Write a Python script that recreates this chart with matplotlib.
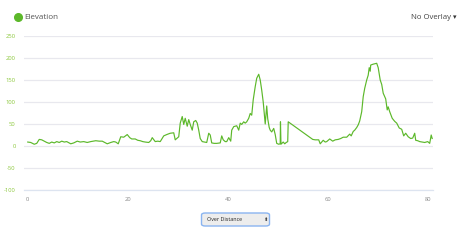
import matplotlib
matplotlib.use("Agg")
import matplotlib.pyplot as plt
from matplotlib.lines import Line2D
from matplotlib.patches import FancyBboxPatch

distance_km = [0.0, 0.6, 1.3, 1.8, 2.3, 2.8, 3.3, 3.8, 4.3, 4.8, 5.3, 5.8, 6.3, 6.8, 7.3, 7.8,
               8.3, 8.6, 9.2, 9.9, 10.5, 11.2, 11.9, 12.6, 13.1, 13.6, 14.3, 14.9, 15.4, 15.9,
               16.6, 17.2, 17.6, 18.1, 18.6, 19.2, 19.9, 20.4, 20.8, 21.5, 22.0, 22.5, 23.0,
               23.5, 24.2, 24.6, 24.9, 25.5, 26.0, 26.5, 27.2, 27.8, 28.5, 29.2, 29.5, 30.2,
               30.5, 30.9, 31.2, 31.5, 31.9, 32.2, 32.5, 32.9, 33.2, 33.6, 33.9, 34.2, 34.5,
               34.9, 35.3, 35.8, 36.2, 36.5, 36.8, 37.3, 37.8, 38.5, 38.8, 39.1, 39.5, 39.8,
               40.2, 40.6, 40.8, 41.2, 41.8, 42.2, 42.5, 42.8, 43.2, 43.5, 43.8, 44.2, 44.5,
               44.8, 45.1, 45.5, 45.8, 46.2, 46.5, 46.8, 47.1, 47.3, 47.5, 47.8, 48.0, 48.3,
               48.5, 48.8, 49.2, 49.5, 49.8, 50.2, 50.5, 50.55, 50.65, 51.1, 51.4, 51.7, 52.0,
               52.1, 57.0, 57.5, 58.2, 58.5, 59.1, 59.5, 59.8, 60.4, 61.0, 61.5, 62.1, 62.6,
               63.1, 63.8, 64.4, 64.7, 65.1, 65.4, 65.8, 66.1, 66.4, 66.8, 67.1, 67.4, 67.8,
               68.1, 68.3, 68.5, 68.6, 69.1, 69.8, 70.1, 70.5, 70.8, 71.1, 71.6, 71.9, 72.1,
               72.4, 72.9, 73.4, 73.8, 74.3, 74.8, 75.2, 75.6, 76.1, 76.6, 77.0, 77.4, 77.6,
               78.0, 78.4, 78.9, 79.4, 80.0, 80.4, 80.7, 80.9]
elevation_m = [9, 8, 4, 6, 15, 14, 11, 8, 6, 9, 7, 10, 8, 11, 9, 10,
               7, 5, 7, 11, 9, 10, 8, 10, 11, 12, 11, 11, 8, 5,
               8, 10, 9, 5, 21, 20, 26, 19, 16, 16, 13, 12, 10,
               9, 8, 12, 19, 10, 11, 10, 23, 26, 29, 30, 14, 21,
               52, 67, 49, 63, 45, 60, 49, 36, 55, 58, 52, 36, 17,
               10, 9, 8, 29, 25, 7, 6, 6, 7, 23, 14, 10, 10,
               19, 11, 36, 44, 46, 36, 52, 49, 55, 52, 55, 63, 74,
               70, 105, 135, 154, 163, 150, 127, 100, 75, 50, 91, 62, 42,
               36, 32, 40, 26, 6, 4, 5, 55, 4, 9, 5, 8, 10,
               55, 15, 14, 14, 5, 13, 9, 10, 16, 11, 14, 15, 17,
               20, 20, 27, 23, 33, 36, 42, 48, 57, 78, 112, 131, 150,
               161, 178, 170, 184, 186, 188, 178, 150, 140, 120, 107, 82, 89,
               78, 63, 56, 52, 41, 38, 23, 29, 21, 17, 18, 29, 13,
               12, 10, 9, 8, 10, 6, 25, 17]

y_ticks = [-100, -50, 0, 50, 100, 150, 200, 250]
x_ticks = [0, 20, 40, 60, 80]
legend_label = "Elevation"
overlay_label = "No Overlay"
mode_label = "Over Distance"

GREEN = "#5cb82a"
FONT = ["Open Sans", "DejaVu Sans"]
plt.rcParams["axes.unicode_minus"] = False

fig = plt.figure(figsize=(4.68, 2.5), dpi=100)
ax = fig.add_axes([24 / 468, 1 - 190 / 250, (432.7 - 24) / 468, (190 - 36) / 250])

ax.plot(distance_km, elevation_m, color=GREEN, lw=0.85, solid_joinstyle="round")
ax.set_xlim(-0.75, 81.0)
ax.set_ylim(-100, 250)
ax.set_yticks(y_ticks)
ax.set_xticks(x_ticks)
ax.grid(axis="y", color="#e8e8ee", lw=0.9)
ax.set_axisbelow(True)
for s in ["top", "right", "left"]:
    ax.spines[s].set_visible(False)
ax.spines["bottom"].set_color("#dde4f0")
ax.spines["bottom"].set_linewidth(0.9)
ax.tick_params(axis="both", length=0)
ax.tick_params(axis="y", labelsize=4.2, labelcolor="#8cc83c", pad=6)
ax.tick_params(axis="x", labelsize=4.2, labelcolor="#888888", pad=5)
for lab in ax.get_xticklabels() + ax.get_yticklabels():
    lab.set_fontfamily(FONT)

# legend
fig.add_artist(Line2D([18 / 468], [1 - 17 / 250], marker="o", markersize=5.5,
                      color=GREEN, transform=fig.transFigure))
fig.text(24 / 468, 1 - 17 / 250, legend_label, fontsize=5.8, color="#555555",
         va="center", ha="left", family=FONT)
fig.text(451 / 468, 1 - 17 / 250, overlay_label, fontsize=5.6, color="#444444",
         va="center", ha="right", family=FONT)
fig.text(456 / 468, 1 - 17.5 / 250, "▾", fontsize=5, color="#333333",
         va="center", ha="right", family=["DejaVu Sans"])

# dropdown
box = FancyBboxPatch((201.5 / 468, 1 - 226 / 250), 68 / 468, 13 / 250,
                     boxstyle="round,pad=0,rounding_size=0.008",
                     transform=fig.transFigure, facecolor="#ededed",
                     edgecolor="#8ab4f0", lw=1.0)
fig.add_artist(box)
fig.text(207 / 468, 1 - 219.5 / 250, mode_label, fontsize=3.9, color="#222222",
         va="center", ha="left", family=FONT)
fig.text(265 / 468, 1 - 219.5 / 250, "⬍", fontsize=3.8, color="#333333",
         va="center", ha="center", family=["DejaVu Sans"])

fig.savefig("out.png", dpi=100, facecolor="white")
